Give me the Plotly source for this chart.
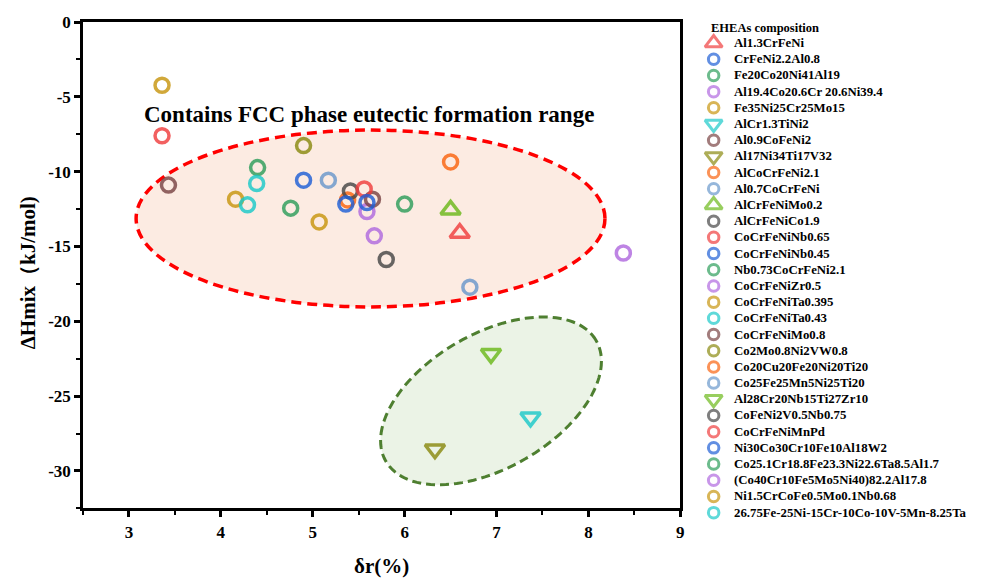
import numpy as np
import plotly.graph_objects as go

# ---------------- data ----------------
names = [
    "Al1.3CrFeNi", "CrFeNi2.2Al0.8", "Fe20Co20Ni41Al19", "Al19.4Co20.6Cr 20.6Ni39.4",
    "Fe35Ni25Cr25Mo15", "AlCr1.3TiNi2", "Al0.9CoFeNi2", "Al17Ni34Ti17V32",
    "AlCoCrFeNi2.1", "Al0.7CoCrFeNi", "AlCrFeNiMo0.2", "AlCrFeNiCo1.9",
    "CoCrFeNiNb0.65", "CoCrFeNiNb0.45", "Nb0.73CoCrFeNi2.1", "CoCrFeNiZr0.5",
    "CoCrFeNiTa0.395", "CoCrFeNiTa0.43", "CoCrFeNiMo0.8", "Co2Mo0.8Ni2VW0.8",
    "Co20Cu20Fe20Ni20Ti20", "Co25Fe25Mn5Ni25Ti20", "Al28Cr20Nb15Ti27Zr10",
    "CoFeNi2V0.5Nb0.75", "CoCrFeNiMnPd", "Ni30Co30Cr10Fe10Al18W2",
    "Co25.1Cr18.8Fe23.3Ni22.6Ta8.5Al1.7", "(Co40Cr10Fe5Mo5Ni40)82.2Al17.8",
    "Ni1.5CrCoFe0.5Mo0.1Nb0.68", "26.75Fe-25Ni-15Cr-10Co-10V-5Mn-8.25Ta",
]
delta_r = [6.60, 4.90, 4.40, 5.59, 3.36, 7.37, 5.65, 6.33, 5.38, 5.17,
           6.50, 5.41, 5.56, 5.36, 6.00, 8.38, 4.16, 4.39, 3.43, 4.90,
           6.50, 6.71, 6.94, 5.80, 3.36, 5.59, 4.76, 5.67, 5.07, 4.29]
delta_h = [-14.10, -10.57, -9.73, -12.66, -4.23, -26.42, -11.84, -28.55, -11.89, -10.57,
           -12.55, -11.29, -11.16, -12.17, -12.17, -15.44, -11.84, -10.79, -10.90, -8.26,
           -9.35, -17.72, -22.17, -15.87, -7.60, -12.06, -12.44, -14.29, -13.36, -12.22]
colors = ["#F03E3E", "#1F5FD6", "#2E9E5B", "#B06ADF", "#C8960F", "#1BC9C9", "#7A4545",
          "#8A8A10", "#FA6410", "#6A98CC", "#6CB91B", "#474747", "#F03E3E", "#1F5FD6",
          "#2E9E5B", "#B06ADF", "#C8960F", "#1BC9C9", "#7A4545", "#8A8A10", "#FA6410",
          "#6A98CC", "#6CB91B", "#474747", "#F03E3E", "#1F5FD6", "#2E9E5B", "#B06ADF",
          "#C8960F", "#1BC9C9"]
symbols = ["triangle-up", "circle", "circle", "circle", "circle", "triangle-down", "circle",
           "triangle-down", "circle", "circle", "triangle-up", "circle", "circle", "circle",
           "circle", "circle", "circle", "circle", "circle", "circle", "circle", "circle",
           "triangle-down", "circle", "circle", "circle", "circle", "circle", "circle", "circle"]

x_range = [2.5, 9]
y_range = [-32.5, 0]
x_tick_vals = [3, 4, 5, 6, 7, 8, 9]
x_tick_text = ["3", "4", "5", "6", "7", "8", "9"]
y_tick_vals = [0, -5, -10, -15, -20, -25, -30]
y_tick_text = ["0", "-5", "-10", "-15", "-20", "-25", "-30"]

legend_title = "EHEAs composition"
region_label = "Contains FCC phase eutectic formation range"
x_title = "δr(%)"
y_title = "ΔHmix（kJ/mol)"

# ---------------- layout geometry (page pixels; page body has an 8px margin) ----------------
W, H = 983, 586
OFF = 8
FW, FH = W - 2 * OFF, H - 2 * OFF
plot_left, plot_top, main_w, plot_h = 83, 22, 600, 492
paper_bottom = 545
ML = plot_left - OFF
MT = plot_top - OFF
MB = (OFF + FH) - paper_bottom
MR = 0
paper_w = FW - ML - MR
paper_h = paper_bottom - plot_top
paper_right = OFF + FW - MR
main_dom = [0, main_w / paper_w]
main_ydom = [(paper_bottom - (plot_top + plot_h)) / paper_h, 1]
leg_left_px = 700
leg_dom = [(leg_left_px - plot_left) / paper_w, 1]
leg_px_per_unit = 16.5
leg_sym_px = 716.5
x2_lo = -(leg_sym_px - leg_left_px) / leg_px_per_unit
x2_range = [x2_lo, x2_lo + (paper_right - leg_left_px) / leg_px_per_unit]
item_h = 16.38
first_item_px = 43.3
y2_top = -(first_item_px - plot_top) / item_h
y2_range = [y2_top + paper_h / item_h, y2_top]
ytitle_px = (28, 276)

FONT = "Liberation Serif, Times New Roman, serif"

fig = go.Figure()

# main markers
for i, n in enumerate(names):
    tri = symbols[i].startswith("triangle")
    fig.add_trace(go.Scatter(
        x=[delta_r[i]], y=[delta_h[i]], mode="markers", name=n,
        marker=dict(symbol=symbols[i] + "-open", size=17 if tri else 14,
                    color=colors[i], line=dict(width=3.5, color=colors[i])),
        opacity=0.82, showlegend=False, xaxis="x", yaxis="y", cliponaxis=False,
    ))

# custom legend markers
idx = list(range(len(names)))
fig.add_trace(go.Scatter(
    x=[0] * len(names), y=idx, mode="markers",
    marker=dict(symbol=[s + "-open" for s in symbols],
                size=[15 if s.startswith("triangle") else 10.5 for s in symbols],
                color=colors, line=dict(width=3)),
    showlegend=False, xaxis="x2", yaxis="y2", cliponaxis=False, hoverinfo="skip",
))

annotations = []
for i, n in enumerate(names):
    annotations.append(dict(
        x=(735 - leg_sym_px) / leg_px_per_unit, y=i, xref="x2", yref="y2",
        text=n, showarrow=False, xanchor="left", yanchor="middle",
        font=dict(family=FONT, size=12.8, color="black", weight="bold"),
    ))
annotations.append(dict(
    x=(712 - leg_sym_px) / leg_px_per_unit, y=(28 - first_item_px) / item_h,
    xref="x2", yref="y2",
    text=legend_title, showarrow=False, xanchor="left", yanchor="middle",
    font=dict(family=FONT, size=12.5, color="black", weight="bold"),
))
annotations.append(dict(
    x=5.607, y=-6.16, xref="x", yref="y", text=region_label, showarrow=False,
    xanchor="center", yanchor="middle",
    font=dict(family=FONT, size=23, color="black", weight="bold"),
))
annotations.append(dict(
    x=(ytitle_px[0] - plot_left) / paper_w, y=(paper_bottom - ytitle_px[1]) / paper_h,
    xref="paper", yref="paper", text=y_title, textangle=-90, showarrow=False,
    xanchor="center", yanchor="middle",
    font=dict(family=FONT, size=21, color="black", weight="bold"),
))

# region shapes
sx = main_w / (x_range[1] - x_range[0])
sy = plot_h / (y_range[1] - y_range[0])
shapes = [dict(
    type="circle", xref="x", yref="y", x0=3.078, x1=8.18, y0=-19.04, y1=-7.22,
    fillcolor="#FCEBE2", line=dict(color="#FF0000", width=3.5, dash="10px,6px"),
    layer="below",
)]
cx, cy, a_px, b_px, th = 6.94, -25.32, 122.0, 68.0, np.deg2rad(30.1)
t = np.linspace(0, 2 * np.pi, 121)
ex = cx + (a_px * np.cos(t) * np.cos(th) - b_px * np.sin(t) * np.sin(th)) / sx
ey = cy + (a_px * np.cos(t) * np.sin(th) + b_px * np.sin(t) * np.cos(th)) / sy
path = "M " + " L ".join(f"{u:.4f},{v:.4f}" for u, v in zip(ex, ey)) + " Z"
shapes.append(dict(
    type="path", xref="x", yref="y", path=path, fillcolor="#EBF3E6",
    line=dict(color="#4E7F30", width=3, dash="9px,5px"), layer="below",
))

axis_font = dict(family=FONT, size=17, color="black", weight="bold")
fig.update_layout(
    width=FW, height=FH, margin=dict(l=ML, r=MR, t=MT, b=MB),
    paper_bgcolor="white", plot_bgcolor="white",
    font=dict(family=FONT, color="black"),
    showlegend=False,
    xaxis=dict(domain=main_dom, range=x_range, tickmode="array", tickvals=x_tick_vals,
               ticktext=x_tick_text, ticks="outside", ticklen=6, tickwidth=2.5,
               tickcolor="black", showline=True, linewidth=2.5, linecolor="black",
               mirror=True, showgrid=False, zeroline=False, tickfont=axis_font,
               minor=dict(tickmode="linear", tick0=2.5, dtick=0.5, ticks="outside",
                          ticklen=4, tickwidth=2, tickcolor="black", showgrid=False),
               title=dict(text=x_title, standoff=22,
                          font=dict(family=FONT, size=21, color="black", weight="bold")),
               anchor="y"),
    yaxis=dict(domain=main_ydom, range=y_range, tickmode="array", tickvals=y_tick_vals,
               ticktext=y_tick_text, ticks="outside", ticklen=6, tickwidth=2.5,
               tickcolor="black", showline=True, linewidth=2.5, linecolor="black",
               mirror=True, showgrid=False, zeroline=False, tickfont=axis_font,
               minor=dict(tickmode="linear", tick0=0, dtick=2.5, ticks="outside",
                          ticklen=4, tickwidth=2, tickcolor="black", showgrid=False),
               anchor="x"),
    xaxis2=dict(domain=leg_dom, range=x2_range, visible=False, anchor="y2",
                fixedrange=True),
    yaxis2=dict(domain=[0, 1], range=y2_range, visible=False, anchor="x2",
                fixedrange=True),
    annotations=annotations,
    shapes=shapes,
)

fig.write_html("out.html")
